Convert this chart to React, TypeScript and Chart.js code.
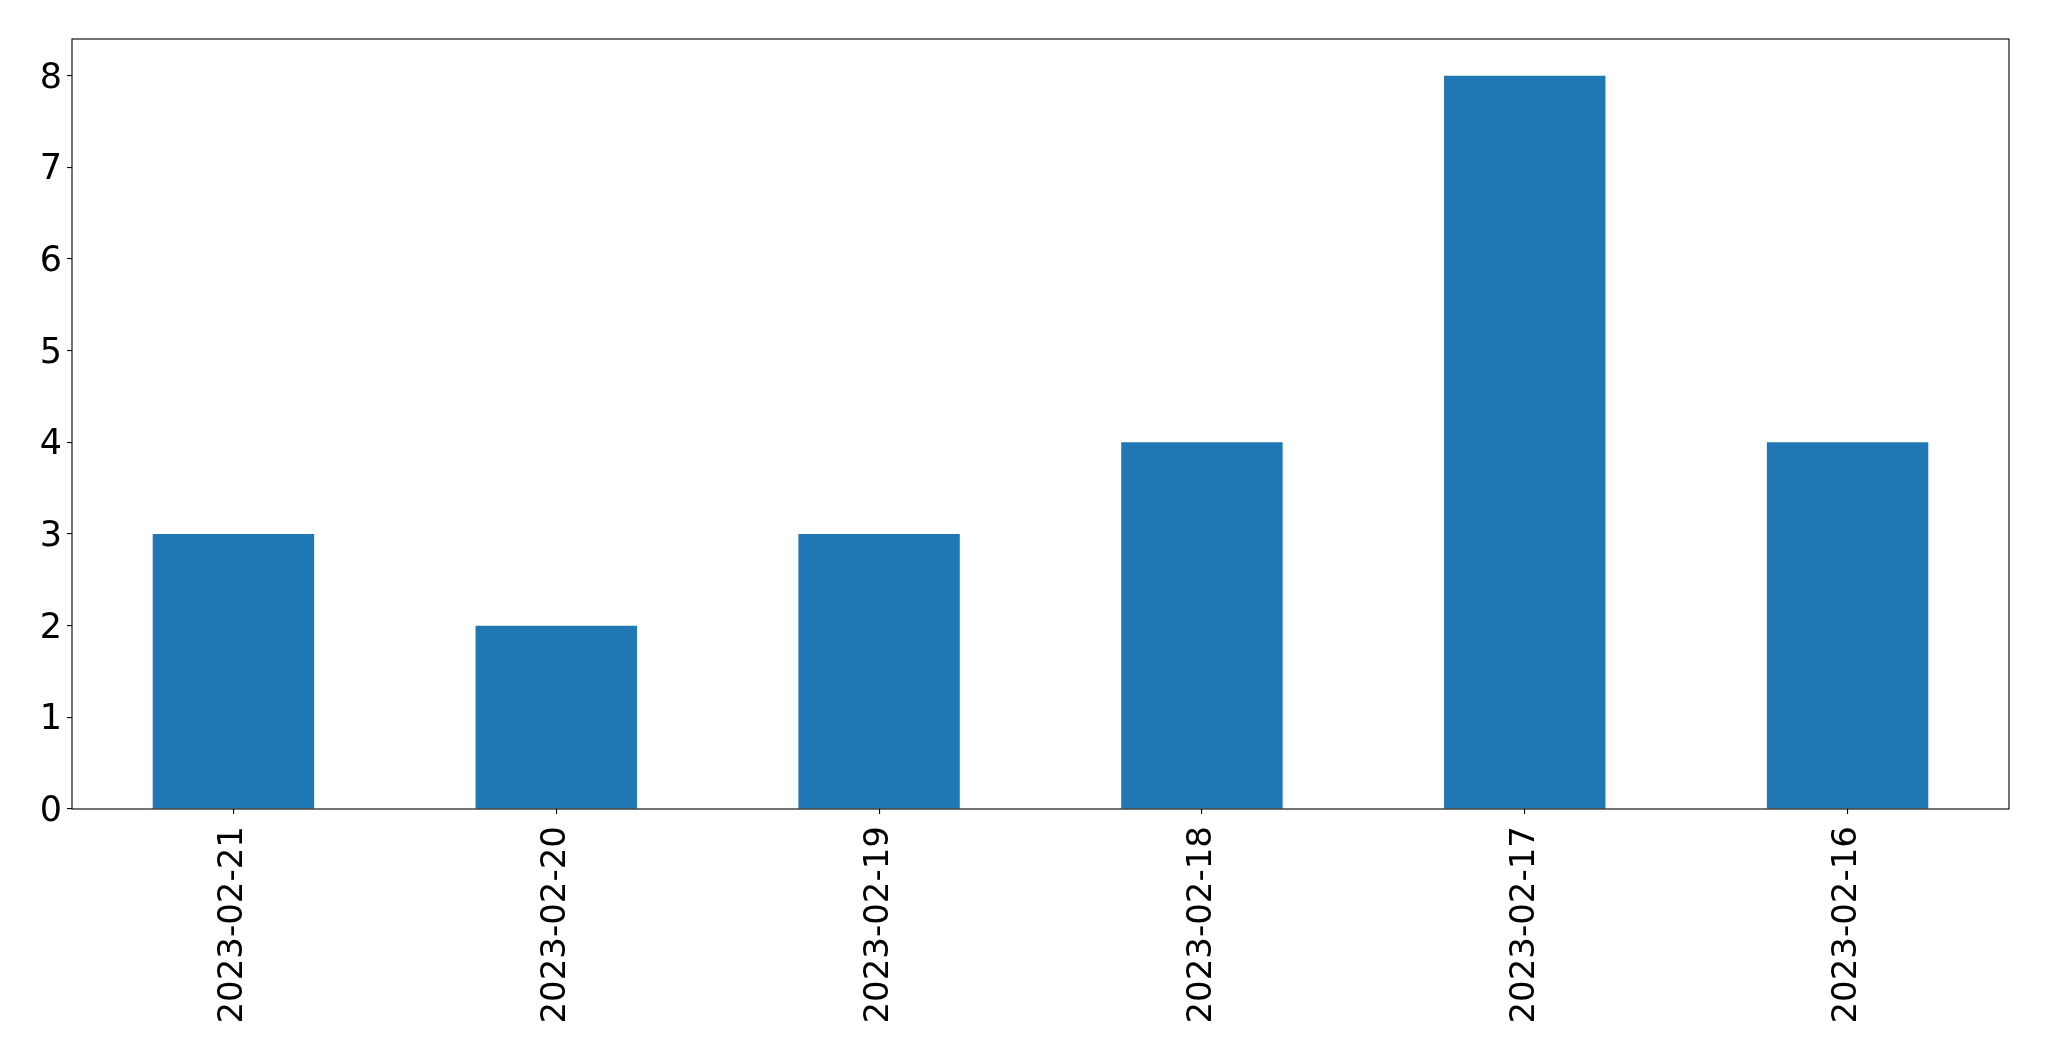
import React, { useEffect, useRef } from "react";
import { Chart, registerables } from "chart.js";

Chart.register(...registerables);

const categories = ["2023-02-21", "2023-02-20", "2023-02-19", "2023-02-18", "2023-02-17", "2023-02-16"];
const counts = [3, 2, 3, 4, 8, 4];
const yTicks = [0, 1, 2, 3, 4, 5, 6, 7, 8];
const yMax = 8.4;

const W = 2049;
const H = 1061;
const FONT = "'DejaVu Sans', sans-serif";

const frame = {
  id: "frame",
  afterDatasetsDraw(chart: any) {
    const { ctx, chartArea } = chart;
    ctx.save();
    ctx.strokeStyle = "#000";
    ctx.lineWidth = 1.1;
    ctx.strokeRect(chartArea.left, chartArea.top, chartArea.right - chartArea.left, chartArea.bottom - chartArea.top);
    ctx.restore();
  },
};

export default function App() {
  const ref = useRef<HTMLCanvasElement | null>(null);
  useEffect(() => {
    document.body.style.margin = "0";
    const canvas = ref.current!;
    const chart = new Chart(canvas, {
      type: "bar",
      data: {
        labels: categories,
        datasets: [
          {
            data: counts,
            backgroundColor: "#1f77b4",
            borderWidth: 0,
            barPercentage: 0.5,
            categoryPercentage: 1,
          },
        ],
      },
      options: {
        animation: false,
        responsive: false,
        maintainAspectRatio: false,
        devicePixelRatio: 1,
        layout: { padding: { left: 0, top: 39, right: 40, bottom: 0 } },
        plugins: { legend: { display: false }, tooltip: { enabled: false } },
        scales: {
          x: {
            offset: true,
            border: { display: false },
            grid: { display: true, drawOnChartArea: false, tickLength: 5, tickColor: "#000", lineWidth: 1.1, offset: false },
            ticks: {
              color: "#000",
              font: { family: FONT, size: 34 },
              maxRotation: 90,
              minRotation: 90,
              padding: 12,
              autoSkip: false,
            },
            afterFit(scale: any) {
              scale.height = 252;
            },
          },
          y: {
            min: 0,
            max: yMax,
            border: { display: false },
            grid: { display: true, drawOnChartArea: false, tickLength: 5, tickColor: "#000", lineWidth: 1.1 },
            ticks: {
              color: "#000",
              font: { family: FONT, size: 35 },
              padding: 5,
              labelOffset: 3,
            },
            afterBuildTicks(scale: any) {
              scale.ticks = yTicks.map((v) => ({ value: v }));
            },
            afterFit(scale: any) {
              scale.width = 72;
            },
          },
        },
      },
      plugins: [frame],
    });
    return () => chart.destroy();
  }, []);
  return <canvas ref={ref} width={W} height={H} style={{ display: "block", width: W, height: H }} />;
}
